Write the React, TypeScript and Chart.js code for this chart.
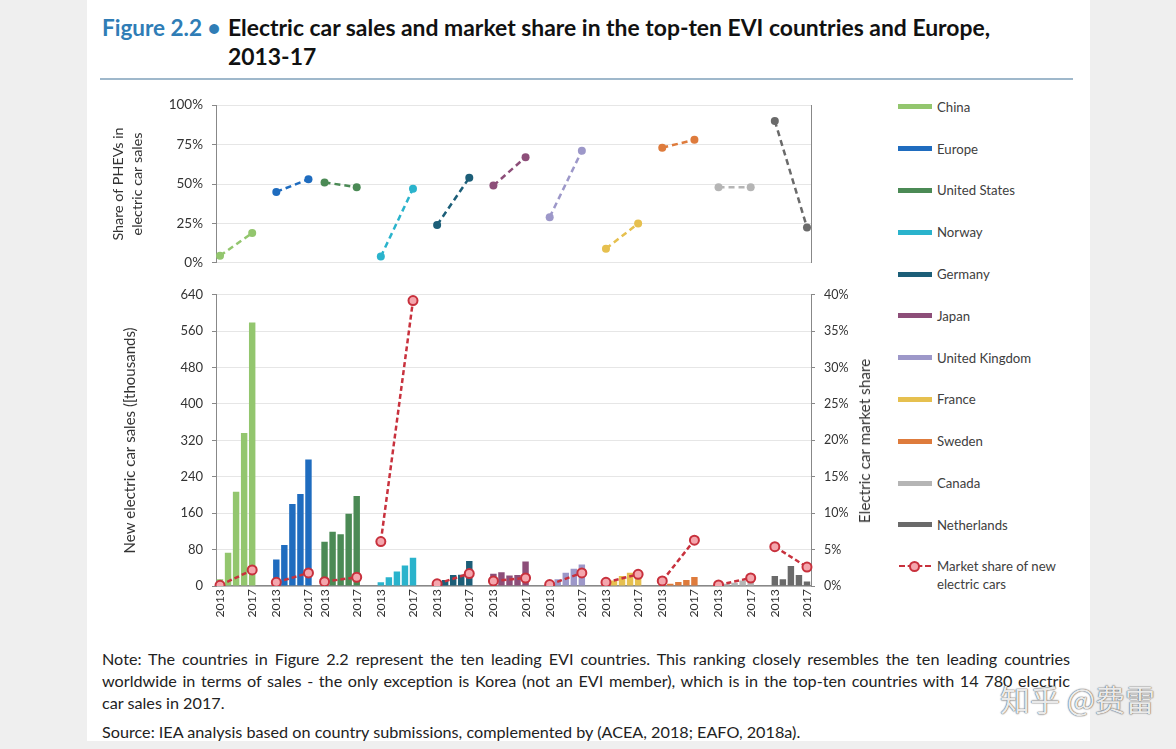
import React, { useEffect, useRef } from 'react';
import { Chart, registerables } from 'chart.js';

Chart.register(...registerables);

// ---------- data ----------
const COUNTRIES = ['China', 'Europe', 'United States', 'Norway', 'Germany', 'Japan', 'United Kingdom', 'France', 'Sweden', 'Canada', 'Netherlands'];
const YEARS = ['2013', '2014', '2015', '2016', '2017'];

// new electric car sales, thousands, 2013..2017
const SALES_CHINA = [15, 73, 207, 336, 579];
const SALES_EUROPE = [58, 90, 180, 202, 278];
const SALES_US = [97, 119, 114, 159, 198];
const SALES_NORWAY = [8, 19, 32, 45, 62];
const SALES_GERMANY = [6, 13, 24, 25, 55];
const SALES_JAPAN = [27, 30, 23, 24, 54];
const SALES_UK = [4, 15, 29, 38, 47];
const SALES_FRANCE = [9, 12, 22, 29, 35];
const SALES_SWEDEN = [2, 5, 9, 13, 20];
const SALES_CANADA = [2, 5, 7, 12, 16];
const SALES_NETHERLANDS = [22, 15, 44, 24, 10];
const SALES = [SALES_CHINA, SALES_EUROPE, SALES_US, SALES_NORWAY, SALES_GERMANY, SALES_JAPAN, SALES_UK, SALES_FRANCE, SALES_SWEDEN, SALES_CANADA, SALES_NETHERLANDS];

// share of PHEVs in electric car sales (%)
const PHEV_2013 = [4.5, 45, 51, 4, 24, 49, 29, 9, 73, 48, 90];
const PHEV_2017 = [19, 53, 48, 47, 54, 67, 71, 25, 78, 48, 22.5];

// electric car market share (%)
const SHARE_2013 = [0.1, 0.5, 0.6, 6.1, 0.3, 0.7, 0.2, 0.5, 0.7, 0.15, 5.4];
const SHARE_2017 = [2.2, 1.8, 1.2, 39.2, 1.7, 1.1, 1.8, 1.6, 6.3, 1.1, 2.6];

const PHEV_TICKS = [0, 25, 50, 75, 100];
const SALES_TICKS = [0, 80, 160, 240, 320, 400, 480, 560, 640];
const SHARE_TICKS = [0, 5, 10, 15, 20, 25, 30, 35, 40];

// ---------- styles ----------
const COLORS = ['#93c66e', '#1f6cbf', '#4b8a55', '#2ab3cc', '#1c5e78', '#8d4e79', '#9d98c9', '#e6c04f', '#de7b3c', '#b5b5b5', '#6a6a6a'];
const RED = '#c8313d';
const PINK = '#f4a6ad';
const GAP_AFTER = [2, 1, 2, 2, 2, 2, 2, 2, 2, 2];
const FONT = 'Lato, "Open Sans", sans-serif';

// ---------- slot layout on the category axis ----------
const labels: string[] = [];
const slotGroup: number[] = [];
const slotYear: number[] = [];
COUNTRIES.forEach((_, g) => {
  YEARS.forEach((y, i) => {
    labels.push(i === 0 || i === YEARS.length - 1 ? y : '');
    slotGroup.push(g);
    slotYear.push(i);
  });
  if (g < COUNTRIES.length - 1) {
    for (let k = 0; k < GAP_AFTER[g]; k++) {
      labels.push('');
      slotGroup.push(-1);
      slotYear.push(-1);
    }
  }
});

const endpoints = (g: number, a: number[], b: number[]) =>
  labels.map((_, s) => {
    if (slotGroup[s] !== g) return null;
    if (slotYear[s] === 0) return a[g];
    if (slotYear[s] === YEARS.length - 1) return b[g];
    return null;
  });

const LEFT_W = 116;
const RIGHT_W = 69;

function topConfig(): any {
  return {
    type: 'line',
    data: {
      labels,
      datasets: COUNTRIES.map((c, g) => ({
        label: c,
        data: endpoints(g, PHEV_2013, PHEV_2017),
        spanGaps: true,
        borderColor: COLORS[g],
        backgroundColor: COLORS[g],
        borderWidth: 2.5,
        borderDash: [6, 4],
        pointRadius: 4,
        pointBorderWidth: 0,
        pointBackgroundColor: COLORS[g],
      })),
    },
    options: {
      animation: false,
      responsive: true,
      maintainAspectRatio: false,
      layout: { padding: 0 },
      plugins: { legend: { display: false }, tooltip: { enabled: false } },
      scales: {
        x: { display: false, offset: true, grid: { display: false } },
        y: {
          position: 'left',
          min: 0,
          max: 100,
          afterBuildTicks: (s: any) => { s.ticks = PHEV_TICKS.map((v) => ({ value: v })); },
          afterFit: (s: any) => { s.width = LEFT_W; },
          ticks: { callback: (v: any) => v + '%', color: '#333', font: { family: FONT, size: 13.5 }, padding: 9 },
          grid: { color: '#e6e6e6', tickColor: '#888', tickLength: 4 },
          border: { display: true, color: '#888' },
          title: {
            display: true,
            text: ['Share of PHEVs in', 'electric car sales'],
            color: '#333',
            font: { family: FONT, size: 14.3, lineHeight: 1.3 },
            padding: { top: 9, bottom: 0 },
          },
        },
        y2: {
          position: 'right',
          min: 0,
          max: 100,
          afterFit: (s: any) => { s.width = RIGHT_W; },
          ticks: { display: false },
          grid: { drawOnChartArea: false, drawTicks: false },
          border: { display: true, color: '#888' },
        },
      },
    },
  };
}

function botConfig(): any {
  const share = labels.map((_, s) => {
    const g = slotGroup[s];
    if (g < 0) return null;
    if (slotYear[s] === 0) return SHARE_2013[g];
    if (slotYear[s] === YEARS.length - 1) return SHARE_2017[g];
    return null;
  });
  return {
    type: 'bar',
    data: {
      labels,
      datasets: [
        {
          type: 'line',
          label: 'Market share of new electric cars',
          data: share,
          yAxisID: 'y2',
          order: 0,
          spanGaps: true,
          borderColor: RED,
          borderWidth: 2.5,
          borderDash: [5, 3],
          pointRadius: 4.5,
          pointBorderWidth: 2,
          pointBorderColor: RED,
          pointBackgroundColor: PINK,
          segment: {
            borderColor: (ctx: any) =>
              slotGroup[ctx.p0DataIndex] === slotGroup[ctx.p1DataIndex] ? RED : 'rgba(0,0,0,0)',
          },
        },
        ...COUNTRIES.map((c, g) => ({
          type: 'bar',
          label: c,
          order: 1,
          yAxisID: 'y',
          data: labels.map((_, s) => (slotGroup[s] === g ? SALES[g][slotYear[s]] : null)),
          backgroundColor: COLORS[g],
          borderWidth: 0,
          grouped: false,
          barPercentage: 0.8,
          categoryPercentage: 1,
        })),
      ],
    },
    options: {
      animation: false,
      responsive: true,
      maintainAspectRatio: false,
      layout: { padding: 0 },
      plugins: { legend: { display: false }, tooltip: { enabled: false } },
      scales: {
        x: {
          offset: true,
          afterFit: (s: any) => { s.height = 44; },
          ticks: {
            autoSkip: false,
            minRotation: 90,
            maxRotation: 90,
            padding: 3,
            color: '#333',
            font: { family: FONT, size: 12.3 },
          },
          grid: { drawOnChartArea: false, drawTicks: false },
          border: { display: true, color: '#888', width: 1.5 },
        },
        y: {
          position: 'left',
          min: 0,
          max: 640,
          afterBuildTicks: (s: any) => { s.ticks = SALES_TICKS.map((v) => ({ value: v })); },
          afterFit: (s: any) => { s.width = LEFT_W; },
          ticks: { color: '#333', font: { family: FONT, size: 13 }, padding: 9 },
          grid: { color: '#e6e6e6', tickColor: '#888', tickLength: 4 },
          border: { display: true, color: '#888' },
          title: {
            display: true,
            text: 'New electric car sales ([thousands)',
            color: '#333',
            font: { family: FONT, size: 15 },
            padding: { top: 21, bottom: 0 },
          },
        },
        y2: {
          position: 'right',
          min: 0,
          max: 40,
          afterBuildTicks: (s: any) => { s.ticks = SHARE_TICKS.map((v) => ({ value: v })); },
          afterFit: (s: any) => { s.width = RIGHT_W; },
          ticks: { callback: (v: any) => v + '%', color: '#333', font: { family: FONT, size: 12.5 }, padding: 9 },
          grid: { drawOnChartArea: false, tickColor: '#888', tickLength: 4 },
          border: { display: true, color: '#888' },
        },
      },
    },
  };
}

const legendItems = COUNTRIES.map((c, g) => ({ label: c, color: COLORS[g] }));

export default function App() {
  const topRef = useRef<HTMLCanvasElement>(null);
  const botRef = useRef<HTMLCanvasElement>(null);

  useEffect(() => {
    const top = new Chart(topRef.current as HTMLCanvasElement, topConfig());
    const bot = new Chart(botRef.current as HTMLCanvasElement, botConfig());
    return () => {
      top.destroy();
      bot.destroy();
    };
  }, []);

  const textStyle: React.CSSProperties = { fontFamily: FONT, color: '#222' };
  const noteLine: React.CSSProperties = {
    textAlign: 'justify',
    textAlignLast: 'justify' as any,
    whiteSpace: 'nowrap',
    height: 22,
    lineHeight: '22px',
  };

  return (
    <div style={{ position: 'fixed', left: 0, top: 0, width: 1176, height: 749, background: '#efefef', overflow: 'hidden' }}>
      <div style={{ position: 'absolute', left: 87, top: 0, width: 1003, height: 741, background: '#ffffff' }} />

      {/* title */}
      <div style={{ ...textStyle, position: 'absolute', left: 102, top: 13, fontSize: 22.5, fontWeight: 700, color: '#2f7db6', lineHeight: '29px', whiteSpace: 'nowrap' }}>
        Figure 2.2 •
      </div>
      <div style={{ ...textStyle, position: 'absolute', left: 228, top: 13, fontSize: 22.9, fontWeight: 700, color: '#111', lineHeight: '29px', whiteSpace: 'nowrap' }}>
        Electric car sales and market share in the top-ten EVI countries and Europe,
        <br />
        2013-17
      </div>
      <div style={{ position: 'absolute', left: 100, top: 78, width: 973, height: 2, background: '#9fb8cb' }} />

      {/* charts */}
      <div style={{ position: 'absolute', left: 100, top: 88, width: 780, height: 192 }}>
        <canvas ref={topRef} />
      </div>
      <div style={{ position: 'absolute', left: 100, top: 278, width: 780, height: 352 }}>
        <canvas ref={botRef} />
      </div>

      {/* right axis title */}
      <div
        style={{
          ...textStyle,
          position: 'absolute',
          left: 864,
          top: 441,
          fontSize: 15.3,
          color: '#333',
          whiteSpace: 'nowrap',
          transform: 'translate(-50%, -50%) rotate(-90deg)',
        }}
      >
        Electric car market share
      </div>

      {/* legend */}
      <div style={{ position: 'absolute', left: 898, top: 86 }}>
        {legendItems.map((it) => (
          <div key={it.label} style={{ display: 'flex', alignItems: 'center', height: 41.8 }}>
            <div style={{ width: 34, height: 5, background: it.color }} />
            <div style={{ ...textStyle, fontSize: 13.2, color: '#404040', marginLeft: 5, whiteSpace: 'nowrap' }}>{it.label}</div>
          </div>
        ))}
        <div style={{ display: 'flex', alignItems: 'flex-start', height: 42, paddingTop: 14 }}>
          <div style={{ position: 'relative', width: 34, height: 12 }}>
            <div style={{ position: 'absolute', left: 1, top: 5, width: 32, height: 0, borderTop: `2.5px dashed ${RED}` }} />
            <div
              style={{
                position: 'absolute',
                left: 11,
                top: 1,
                width: 7,
                height: 7,
                borderRadius: '50%',
                border: `2px solid ${RED}`,
                background: PINK,
              }}
            />
          </div>
          <div style={{ ...textStyle, fontSize: 13.2, color: '#404040', marginLeft: 5, lineHeight: '18px', marginTop: -3, whiteSpace: 'nowrap' }}>
            Market share of new
            <br />
            electric cars
          </div>
        </div>
      </div>

      {/* note */}
      <div style={{ ...textStyle, position: 'absolute', left: 102, top: 648, width: 968, fontSize: 16.2, color: '#222' }}>
        <div style={noteLine}>
          Note: The countries in Figure 2.2 represent the ten leading EVI countries. This ranking closely resembles the ten leading countries
        </div>
        <div style={noteLine}>
          worldwide in terms of sales - the only exception is Korea (not an EVI member), which is in the top-ten countries with 14 780 electric
        </div>
        <div style={{ height: 22, lineHeight: '22px' }}>car sales in 2017.</div>
        <div style={{ height: 28, lineHeight: '28px', marginTop: 4 }}>
          Source: IEA analysis based on country submissions, complemented by (ACEA, 2018; EAFO, 2018a).
        </div>
      </div>

      {/* watermark */}
      <div
        style={{
          position: 'absolute',
          left: 1000,
          top: 676,
          fontFamily: '"Noto Sans CJK SC", sans-serif',
          fontSize: 30,
          color: 'rgba(255,255,255,0.9)',
          textShadow: '0 0 1.5px #555, 0 0 1px #555',
          whiteSpace: 'nowrap',
        }}
      >
        知乎 @费雷
      </div>
    </div>
  );
}
